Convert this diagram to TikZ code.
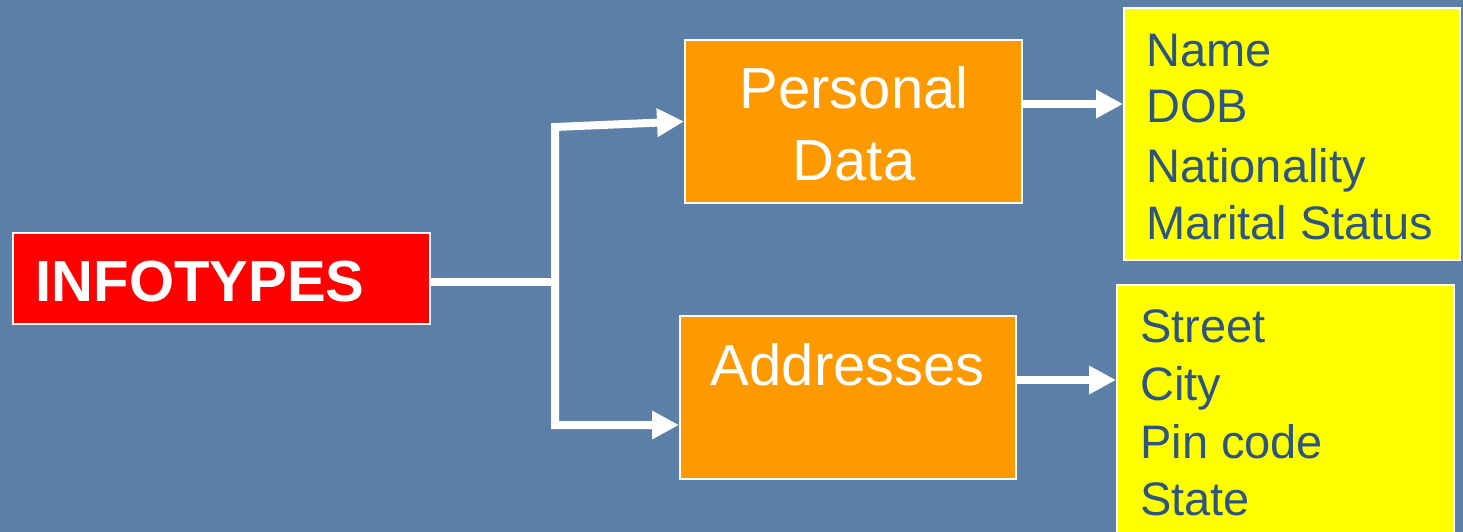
\documentclass[tikz,border=0pt]{standalone}
\usepackage{fontspec}
\setmainfont{Liberation Sans}
\usetikzlibrary{arrows.meta}
\definecolor{bgblue}{RGB}{92,127,167}
\definecolor{boxorange}{RGB}{255,153,0}
\definecolor{boxred}{RGB}{255,0,0}
\definecolor{boxyellow}{RGB}{255,255,0}
\definecolor{itemblue}{RGB}{46,84,130}
\tikzset{
  panel/.style={draw=white, line width=2pt, inner sep=0pt},
  redbox/.style={panel, fill=boxred},
  orangebox/.style={panel, fill=boxorange},
  yellowbox/.style={panel, fill=boxyellow},
  bigtext/.style={anchor=base, text=white, font=\fontsize{58}{70}\selectfont},
  itemtext/.style={anchor=base west, inner sep=0pt, text=itemblue, font=\fontsize{47}{57}\selectfont},
  conn/.style={draw=white, line width=8pt},
  arrowtip/.style={conn, -{Triangle[length=27pt,width=27pt]}},
  twotips/.style={conn, {Triangle[length=27pt,width=27pt]}-{Triangle[length=27pt,width=27pt]}}
}
\begin{document}
\begin{tikzpicture}[x=1pt,y=-1pt]
\useasboundingbox (0,0) rectangle (1463,532);
\clip (0,0) rectangle (1463,532);
\fill[bgblue] (0,0) rectangle (1463,532);

% boxes
\node[redbox, minimum width=417pt, minimum height=91pt] (info) at (221.5,278.5) {};
\node[orangebox, minimum width=337pt, minimum height=163pt] (pd) at (853.5,121.5) {};
\node[orangebox, minimum width=336pt, minimum height=163pt] (ad) at (848,397.5) {};
\node[yellowbox, minimum width=336pt, minimum height=252pt] (y1) at (1292,134) {};
\node[yellowbox, minimum width=337pt, minimum height=270pt] (y2) at (1285.5,420) {};

% texts
\node[bigtext, font=\fontsize{58}{70}\selectfont\bfseries] (infot) at (200,301) {INFOTYPES};
\node[bigtext] (pdt1) at (854,109) {Personal};
\node[bigtext] (pdt2) at (854,180) {Data};
\node[bigtext] (adt) at (848,385) {Addresses};

\node[itemtext] (n1) at (1146,67) {Name};
\node[itemtext] (n2) at (1146,123) {DOB};
\node[itemtext] (n3) at (1146,182) {Nationality};
\node[itemtext] (n4) at (1146,239) {Marital Status};

\node[itemtext] (s1) at (1140,342) {Street};
\node[itemtext] (s2) at (1140,400) {City};
\node[itemtext] (s3) at (1140,458) {Pin code};
\node[itemtext] (s4) at (1140,515) {State};

% connectors
\coordinate (j) at (555,282);
\coordinate (jt) at (555,127);
\coordinate (jb) at (555,425);
\draw[conn] (info.east |- j) -- (j);
\draw[twotips] (pd.west) -- (jt) -- (jb) -- (jb -| ad.west);
\coordinate (pdo) at (1022,104);
\coordinate (ado) at (1016,380);
\draw[arrowtip] (pd.east |- pdo) -- (y1.west |- pdo);
\draw[arrowtip] (ad.east |- ado) -- (y2.west |- ado);
\end{tikzpicture}
\end{document}
